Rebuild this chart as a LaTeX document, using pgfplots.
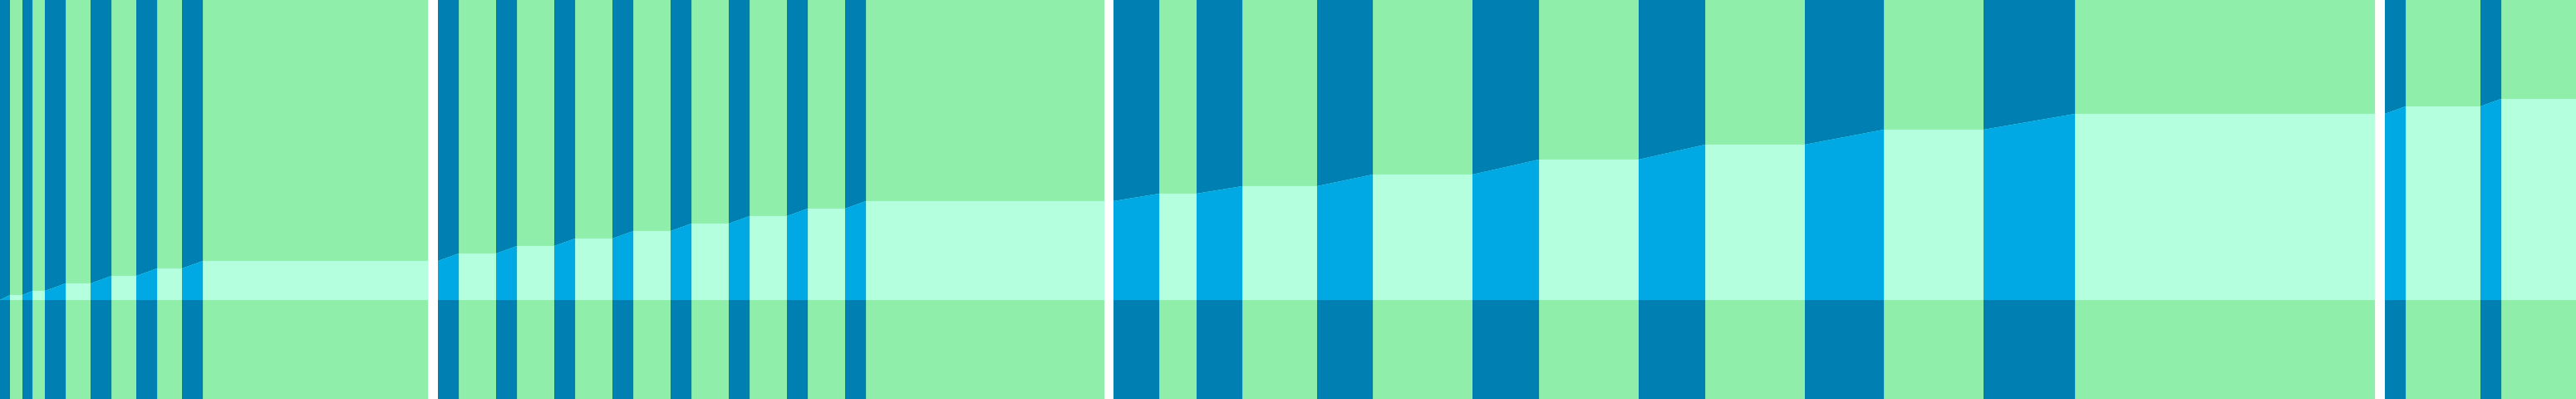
\documentclass[border=0pt]{standalone}
\usepackage{pgfplots}
\pgfplotsset{compat=1.18}

\definecolor{bggreen}{HTML}{8FEFAA}
\definecolor{stripeblue}{HTML}{0080B2}
\definecolor{bandmint}{HTML}{B3FFDE}
\definecolor{bandcyan}{HTML}{00A8E4}

\begin{document}
\begin{tikzpicture}
    \begin{axis}[
        width=31cm, height=4.8cm,
        scale only axis,
        hide axis,
        xmin=0, xmax=3100,
        ymin=-119, ymax=361,
        enlargelimits=false,
        unbounded coords=jump,
        every axis plot/.append style={draw=none, mark=none},
    ]

    % green background, one block per group
    \addplot[fill=bggreen] coordinates {
        (0,-119) (515,-119) (515,361) (0,361) (0,nan)
        (527,-119) (1329,-119) (1329,361) (527,361) (527,nan)
        (1340,-119) (2858,-119) (2858,361) (1340,361) (1340,nan)
        (2870,-119) (3100,-119) (3100,361) (2870,361)
    };

    % dark blue stripes, full height
    \addplot[fill=stripeblue] coordinates {
        (0,-119) (12,-119) (12,361) (0,361) (0,nan)
        (27,-119) (39,-119) (39,361) (27,361) (27,nan)
        (54,-119) (79,-119) (79,361) (54,361) (54,nan)
        (109,-119) (134,-119) (134,361) (109,361) (109,nan)
        (164,-119) (189,-119) (189,361) (164,361) (164,nan)
        (219,-119) (244,-119) (244,361) (219,361) (219,nan)
        (527,-119) (552,-119) (552,361) (527,361) (527,nan)
        (597,-119) (622,-119) (622,361) (597,361) (597,nan)
        (667,-119) (692,-119) (692,361) (667,361) (667,nan)
        (737,-119) (762,-119) (762,361) (737,361) (737,nan)
        (807,-119) (832,-119) (832,361) (807,361) (807,nan)
        (877,-119) (902,-119) (902,361) (877,361) (877,nan)
        (947,-119) (972,-119) (972,361) (947,361) (947,nan)
        (1017,-119) (1042,-119) (1042,361) (1017,361) (1017,nan)
        (1340,-119) (1395,-119) (1395,361) (1340,361) (1340,nan)
        (1440,-119) (1495,-119) (1495,361) (1440,361) (1440,nan)
        (1585,-119) (1652,-119) (1652,361) (1585,361) (1585,nan)
        (1772,-119) (1852,-119) (1852,361) (1772,361) (1772,nan)
        (1972,-119) (2052,-119) (2052,361) (1972,361) (1972,nan)
        (2172,-119) (2267,-119) (2267,361) (2172,361) (2172,nan)
        (2387,-119) (2497,-119) (2497,361) (2387,361) (2387,nan)
        (2870,-119) (2895,-119) (2895,361) (2870,361) (2870,nan)
        (2985,-119) (3010,-119) (3010,361) (2985,361)
    };

    % cumulative band (mint), one profile per group
    \addplot[fill=bandmint] coordinates {
        (0,0) (12,6) (27,6) (39,11) (54,11) (79,20) (109,20) (134,29)
        (164,29) (189,38) (219,38) (244,47) (515,47) (515,0) (0,nan)
        (527,0) (527,47) (552,56) (597,56) (622,65) (667,65) (692,74)
        (737,74) (762,83) (807,83) (832,92) (877,92) (902,101) (947,101)
        (972,110) (1017,110) (1042,119) (1329,119) (1329,0) (1329,nan)
        (1340,0) (1340,119) (1395,128) (1440,128) (1495,137) (1585,137)
        (1652,151) (1772,151) (1852,169) (1972,169) (2052,187) (2172,187)
        (2267,205) (2387,205) (2497,224) (2858,224) (2858,0) (2858,nan)
        (2870,0) (2870,224) (2895,233) (2985,233) (3010,242) (3100,242) (3100,0)
    };

    % band inside the stripes (cyan)
    \addplot[fill=bandcyan] coordinates {
        (0,0) (12,0) (12,6) (0,0) (0,nan)
        (27,0) (39,0) (39,11) (27,6) (27,nan)
        (54,0) (79,0) (79,20) (54,11) (54,nan)
        (109,0) (134,0) (134,29) (109,20) (109,nan)
        (164,0) (189,0) (189,38) (164,29) (164,nan)
        (219,0) (244,0) (244,47) (219,38) (219,nan)
        (527,0) (552,0) (552,56) (527,47) (527,nan)
        (597,0) (622,0) (622,65) (597,56) (597,nan)
        (667,0) (692,0) (692,74) (667,65) (667,nan)
        (737,0) (762,0) (762,83) (737,74) (737,nan)
        (807,0) (832,0) (832,92) (807,83) (807,nan)
        (877,0) (902,0) (902,101) (877,92) (877,nan)
        (947,0) (972,0) (972,110) (947,101) (947,nan)
        (1017,0) (1042,0) (1042,119) (1017,110) (1017,nan)
        (1340,0) (1395,0) (1395,128) (1340,119) (1340,nan)
        (1440,0) (1495,0) (1495,137) (1440,128) (1440,nan)
        (1585,0) (1652,0) (1652,151) (1585,137) (1585,nan)
        (1772,0) (1852,0) (1852,169) (1772,151) (1772,nan)
        (1972,0) (2052,0) (2052,187) (1972,169) (1972,nan)
        (2172,0) (2267,0) (2267,205) (2172,187) (2172,nan)
        (2387,0) (2497,0) (2497,224) (2387,205) (2387,nan)
        (2870,0) (2895,0) (2895,233) (2870,224) (2870,nan)
        (2985,0) (3010,0) (3010,242) (2985,233)
    };

    \end{axis}
\end{tikzpicture}
\end{document}
